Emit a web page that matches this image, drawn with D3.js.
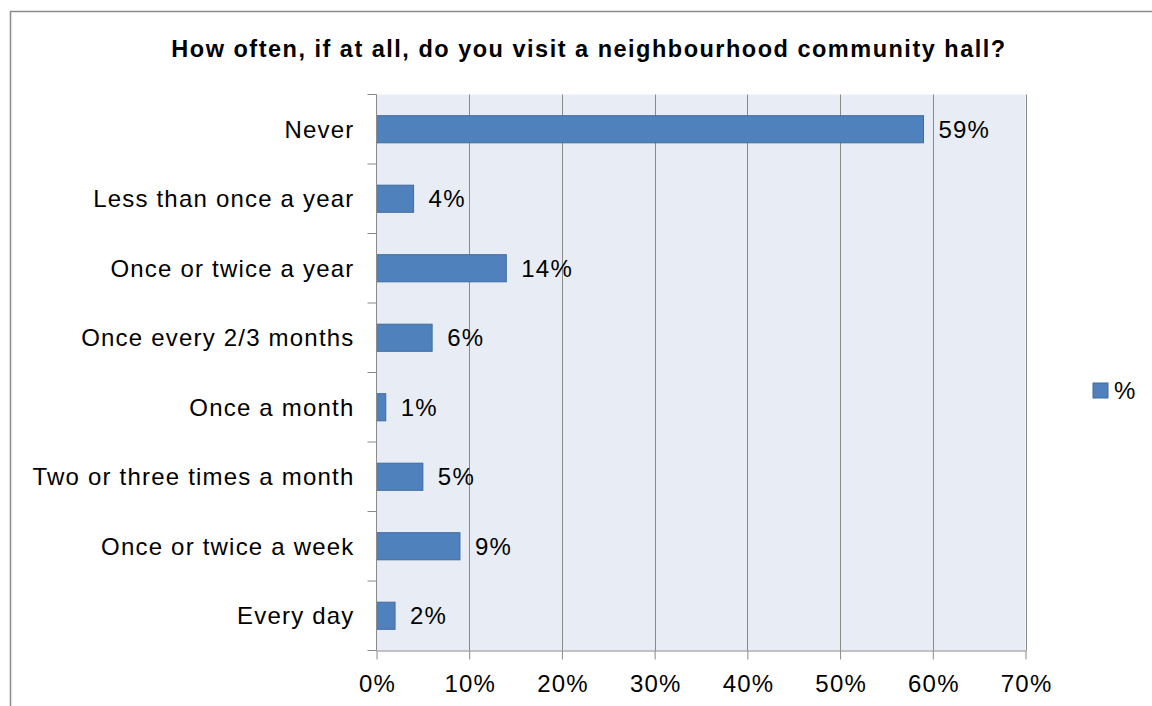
<!DOCTYPE html>
<html>
<head>
<meta charset="utf-8">
<script src="https://cdn.jsdelivr.net/npm/d3@7"></script>
<style>
  html, body { margin: 0; padding: 0; background: #fff; }
  svg { display: block; font-family: "Liberation Sans", Arial, sans-serif; }
</style>
</head>
<body>
<svg id="chart" width="1152" height="706"></svg>
<script>
// Survey responses: visit frequency to a neighbourhood community hall
const categories = [
  "Never",
  "Less than once a year",
  "Once or twice a year",
  "Once every 2/3 months",
  "Once a month",
  "Two or three times a month",
  "Once or twice a week",
  "Every day"
];
const values = [59, 4, 14, 6, 1, 5, 9, 2];
const xTicks = [0, 10, 20, 30, 40, 50, 60, 70];
const seriesName = "%";
const title = "How often, if at all, do you visit a neighbourhood community hall?";

const svg = d3.select("#chart");
const W = 1152, H = 706;
const plot = { left: 376.5, right: 1025.5, top: 94.5, bottom: 650.5 };
const labelFont = 24;
const labelSpacing = 1.2;

// Outer chart frame (extends past the right and bottom edges)
svg.append("rect")
  .attr("x", 10.5).attr("y", 11.5)
  .attr("width", W + 20).attr("height", H + 20)
  .attr("fill", "#fff").attr("stroke", "#8c8c8c").attr("stroke-width", 1.5);

// Title
svg.append("text")
  .attr("x", 589).attr("y", 56.7)
  .attr("text-anchor", "middle")
  .attr("font-size", 23.5).attr("font-weight", "bold")
  .attr("letter-spacing", 1.5)
  .attr("fill", "#000")
  .text(title);

const x = d3.scaleLinear().domain([0, 70]).range([plot.left, plot.right]);
const y = d3.scaleBand().domain(categories)
  .range([plot.top, plot.bottom])
  .paddingInner(0.61).paddingOuter(0.305);

// Plot area background
svg.append("rect")
  .attr("x", plot.left).attr("y", plot.top)
  .attr("width", plot.right - plot.left).attr("height", plot.bottom - plot.top)
  .attr("fill", "#e8ecf4");

// Vertical gridlines
svg.append("g").selectAll("line")
  .data(xTicks.filter(d => d > 0))
  .join("line")
  .attr("x1", d => Math.round(x(d)) + 0.5).attr("x2", d => Math.round(x(d)) + 0.5)
  .attr("y1", plot.top).attr("y2", plot.bottom)
  .attr("stroke", "#8a8a8a").attr("stroke-width", 1);

// Bars
svg.append("g").selectAll("rect")
  .data(values)
  .join("rect")
  .attr("x", x(0))
  .attr("y", (d, i) => y(categories[i]))
  .attr("width", d => x(d) - x(0))
  .attr("height", y.bandwidth())
  .attr("fill", "#4f81bd")
  .attr("stroke", "#3f6b9f").attr("stroke-width", 1);

// Value labels
svg.append("g").selectAll("text")
  .data(values)
  .join("text")
  .attr("x", d => x(d) + 15)
  .attr("y", (d, i) => y(categories[i]) + y.bandwidth() / 2)
  .attr("dy", "0.36em")
  .attr("font-size", labelFont)
  .attr("letter-spacing", labelSpacing)
  .attr("fill", "#000")
  .text(d => d + "%");

// X axis
const xAxis = d3.axisBottom(x)
  .tickValues(xTicks)
  .tickFormat(d => d + "%")
  .tickSize(9)
  .tickPadding(15)
  .tickSizeOuter(0);
const gx = svg.append("g")
  .attr("transform", `translate(0,${plot.bottom})`)
  .call(xAxis);
gx.select(".domain").attr("stroke", "#8a8a8a");
gx.selectAll(".tick line").attr("stroke", "#8a8a8a");
gx.selectAll(".tick text")
  .attr("font-size", labelFont).attr("font-family", "Liberation Sans, Arial, sans-serif")
  .attr("letter-spacing", labelSpacing)
  .attr("dx", labelSpacing / 2)
  .attr("fill", "#000");

// Y axis: category labels with tick marks at band boundaries
const gy = svg.append("g");
gy.append("line")
  .attr("x1", plot.left).attr("x2", plot.left)
  .attr("y1", plot.top).attr("y2", plot.bottom)
  .attr("stroke", "#8a8a8a");
const step = y.step();
gy.selectAll("line.tick")
  .data(d3.range(categories.length + 1))
  .join("line")
  .attr("class", "tick")
  .attr("x1", plot.left - 9).attr("x2", plot.left)
  .attr("y1", i => plot.top + i * step).attr("y2", i => plot.top + i * step)
  .attr("stroke", "#8a8a8a");
gy.selectAll("text")
  .data(categories)
  .join("text")
  .attr("x", plot.left - 22)
  .attr("y", d => y(d) + y.bandwidth() / 2)
  .attr("dy", "0.36em")
  .attr("text-anchor", "end")
  .attr("font-size", labelFont)
  .attr("letter-spacing", labelSpacing)
  .attr("fill", "#000")
  .text(d => d);

// Legend
const lg = svg.append("g").attr("transform", "translate(1093,383)");
lg.append("rect")
  .attr("width", 15).attr("height", 15)
  .attr("fill", "#4f81bd").attr("stroke", "#3f6b9f");
lg.append("text")
  .attr("x", 21).attr("y", 7.5).attr("dy", "0.36em")
  .attr("font-size", labelFont).attr("fill", "#000")
  .text(seriesName);
</script>
</body>
</html>
